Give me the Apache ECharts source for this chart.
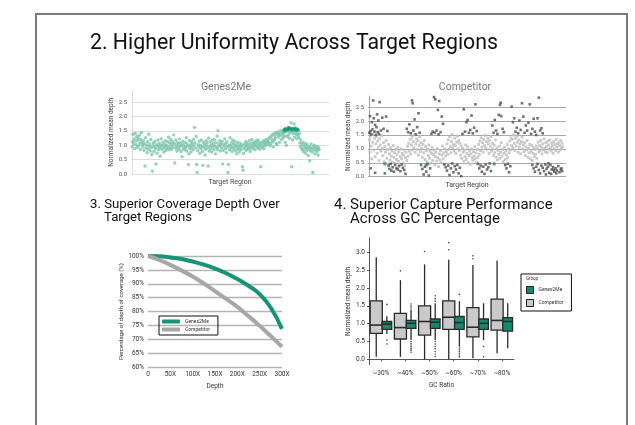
<!DOCTYPE html>
<html>
<head>
<meta charset="utf-8">
<script src="https://cdn.jsdelivr.net/npm/echarts@6/dist/echarts.min.js"></script>
<style>
html, body { margin: 0; padding: 0; background: #fff; }
#main { width: 635px; height: 425px; }
</style>
</head>
<body>
<div id="main"></div>
<script>
/*
 * Panel of four small charts: uniformity scatters, coverage curves, GC boxplots
 */

// normalized mean depth per target region (Genes2Me)
var g2mDepth = [
  0.95,1.12,1.38,1.05,1.22,0.88,1.41,1.15,1.02,1.30,0.92,1.18,1.25,0.98,1.35,1.08,0.85,1.20,1.44,1.10,
  1.02,0.94,1.16,0.82,1.06,0.28,1.26,0.90,1.00,0.74,1.12,0.86,1.38,0.96,1.04,0.80,1.20,0.92,0.68,0.10,
  0.98,1.08,0.78,0.94,1.14,0.88,0.35,1.02,0.72,0.96,1.18,0.84,1.06,0.92,0.62,1.00,1.22,0.86,0.98,1.10,
  0.90,0.76,1.04,0.94,1.16,0.82,1.00,0.88,1.12,0.96,1.28,0.84,1.08,0.92,1.20,1.02,0.86,1.14,0.94,1.06,
  1.36,1.06,0.38,0.90,1.18,0.98,0.80,1.10,0.92,1.04,0.86,1.22,0.96,1.08,0.78,1.00,0.60,1.14,0.88,1.02,
  0.94,0.84,1.10,0.92,1.26,0.80,1.04,0.96,0.33,0.70,1.16,0.88,1.00,0.76,1.12,0.92,1.06,0.84,1.20,0.98,
  1.62,1.08,0.90,1.30,0.33,0.05,0.82,1.02,0.94,1.14,0.72,1.00,0.88,1.18,0.96,0.78,0.30,1.10,0.92,1.04,
  0.66,0.86,1.16,0.98,1.08,0.90,0.28,1.24,0.80,0.96,1.12,0.88,1.02,0.76,1.18,0.94,1.06,0.84,1.20,0.98,
  0.70,1.10,0.92,1.32,0.86,1.50,1.04,0.96,1.16,0.80,1.00,1.08,0.90,1.14,0.35,0.82,1.02,0.96,1.22,0.88,
  1.06,0.74,1.12,0.94,0.05,0.33,1.00,0.84,1.26,0.98,0.90,1.08,0.78,1.18,0.92,1.04,0.86,1.14,0.96,0.80,
  1.02,0.70,0.92,1.10,0.86,0.98,0.76,0.90,1.06,0.84,0.96,1.00,0.25,0.13,0.72,0.88,1.04,0.94,1.12,0.82,
  0.98,1.08,0.90,1.02,0.86,1.16,0.94,0.78,1.06,0.92,1.20,1.00,0.88,1.10,0.96,1.04,0.84,1.14,0.98,1.08,
  0.90,1.18,1.02,0.94,1.12,0.86,1.06,0.25,1.00,0.92,1.10,0.96,1.16,0.88,1.04,1.12,0.98,1.20,1.06,1.14,
  1.14,1.02,1.22,1.10,1.28,0.98,1.06,1.30,1.20,1.36,1.12,0.94,1.40,1.18,1.32,1.24,1.44,1.06,1.02,1.38,
  1.46,1.28,1.36,1.10,1.42,1.50,1.34,1.20,1.48,1.38,1.26,1.44,1.52,1.32,1.10,1.46,1.00,1.56,1.30,1.48,
  1.36,1.54,1.24,1.42,1.50,1.78,0.25,1.46,1.18,1.52,1.40,1.74,1.28,1.48,1.56,1.38,1.22,1.44,1.34,1.50,
  1.26,1.40,1.08,0.96,1.18,0.90,1.04,0.84,1.10,0.78,0.98,0.88,1.06,0.72,0.94,0.82,1.02,0.90,0.64,0.96,
  0.86,0.46,0.92,0.80,1.04,0.88,0.76,0.05,0.94,0.84,1.00,0.70,0.90,0.82,0.96,0.78,0.88,0.66,0.92,0.84
];
// overlapping (darker) points in the raised block, [region, depth]
var g2mDense = [
  [292,1.50],[292,1.55],[294,1.58],[296,1.52],[298,1.57],[300,1.54],[300,1.62],[302,1.60],[304,1.56],
  [306,1.58],[307,1.53],[309,1.58],[311,1.55],[313,1.60],[315,1.52],[317,1.57],[319,1.54]
];

// competitor: main light band, one value per region
var compDepth = [
  1.32,0.88,1.46,1.10,0.64,1.24,1.52,0.96,1.38,0.72,1.18,1.44,0.84,1.28,1.06,0.58,1.36,1.14,0.92,1.48,
  1.02,0.76,1.22,0.54,1.08,0.88,1.30,0.66,0.98,0.46,1.16,0.82,0.60,1.04,0.74,0.92,0.52,1.12,0.70,0.86,
  0.48,0.98,0.62,0.80,1.06,0.56,0.90,0.44,0.72,1.00,0.64,0.84,0.50,0.78,0.96,0.40,0.68,0.88,0.58,1.10,
  0.74,1.20,0.92,1.34,0.82,1.14,1.42,0.96,1.26,1.04,1.50,0.88,1.18,1.36,0.98,1.28,0.78,1.12,1.44,0.90,
  1.22,1.02,0.70,1.16,0.86,1.30,0.62,1.08,0.94,0.54,1.00,0.76,1.14,0.66,0.92,0.48,0.84,1.06,0.58,0.80,
  0.96,0.42,0.72,0.88,0.56,1.02,0.68,0.36,0.82,0.60,0.94,0.50,0.78,1.10,0.64,0.86,0.46,1.00,0.74,0.90,
  1.18,0.80,1.32,0.98,1.44,1.08,0.86,1.26,1.52,1.04,1.16,0.92,1.38,1.12,0.84,1.24,1.46,1.00,1.30,0.94,
  1.20,0.78,1.10,0.66,1.02,0.88,0.56,0.96,0.72,1.14,0.62,0.84,1.06,0.50,0.76,0.92,0.44,0.82,1.00,0.68,
  0.58,0.90,0.74,1.08,0.64,0.86,0.52,0.98,0.70,1.16,0.80,1.28,0.94,1.40,1.06,1.22,0.88,1.34,1.12,1.48,
  1.02,1.26,0.96,1.38,1.18,0.84,1.30,1.08,1.44,0.92,1.20,1.00,0.76,1.14,0.86,1.32,0.70,1.04,0.60,0.94,
  0.80,1.10,0.66,0.88,1.22,0.74,0.98,0.54,0.84,1.06,0.62,0.92,0.78,1.16,0.68,1.00,0.86,1.28,0.96,1.40,
  1.12,1.34,1.04,1.50,1.20,0.94,1.38,1.10,1.46,1.24,0.88,1.32,1.06,1.18,0.82,1.26,1.42,1.00,1.14,0.90,
  1.22,0.76,1.08,0.96,1.30,0.70,1.02,0.86,1.16,0.64,0.92,1.12,0.58,0.84,1.04,0.72,0.98,0.80,1.10,0.66,
  1.00,1.24,0.88,1.12,0.94,1.30,1.06,0.82,1.18,0.96,1.36,1.02,0.90,1.22,1.08,0.86,1.28,1.14,0.98,1.32,
  1.04,0.92,1.20,1.10,0.84,1.26,1.00,1.16,0.94,1.34,1.06,1.18,0.88,1.24,1.12,0.96,1.30,1.02,1.20,1.08
];
// competitor: dark over/under-covered regions, [region, depth]
var compExtreme = [
  [0,1.58],[1,2.18],[2,1.64],[3,1.52],[4,1.96],[5,1.70],[6,2.74],[7,2.10],[8,1.62],[9,1.86],[10,1.50],[11,1.78],[12,2.24],[13,1.60],[14,2.02],[15,1.54],[16,2.68],[18,1.66],[2,0.30],[9,0.14],
  [20,2.12],[22,1.72],[24,0.12],[26,2.16],[28,1.64],[30,0.40],[31,0.28],[33,0.46],[34,0.22],[36,0.34],[38,0.18],[40,0.42],[42,0.30],[44,0.26],[46,0.38],[48,0.20],[50,0.44],[52,0.32],[54,0.24],[56,0.10],
  [58,1.72],[60,1.60],[62,1.88],[64,1.56],[66,2.74],[67,2.64],[68,1.66],[70,2.06],[72,1.52],[74,1.78],[76,2.28],[78,1.58],[80,0.42],[82,0.28],[84,0.08],[86,0.36],[88,0.18],[90,0.46],[92,0.04],[94,0.30],
  [96,1.54],[98,1.62],[100,2.86],[101,1.58],[102,2.78],[104,1.66],[106,2.40],[107,1.52],[108,2.72],[110,1.60],[112,2.16],[114,1.90],[116,0.44],[118,0.34],[120,0.22],[122,0.40],[124,0.06],[126,0.30],[128,0.48],[130,0.16],
  [132,0.38],[134,0.26],[136,0.42],[138,0.12],[140,0.32],[142,0.02],[144,1.54],[146,2.42],[148,1.62],[150,1.96],[152,2.04],[154,1.58],[156,1.68],[158,2.20],[160,1.56],[162,1.76],[164,2.60],[166,1.64],[168,0.46],[170,0.30],
  [172,0.40],[174,0.18],[176,0.36],[178,0.10],[180,0.44],[182,0.26],[184,0.34],[186,0.48],[188,0.20],[190,1.84],[192,1.58],[194,2.04],[196,1.66],[198,1.54],[200,2.22],[202,2.58],[203,2.66],[204,2.18],[206,1.72],[208,1.60],
  [210,0.42],[212,0.30],[214,0.46],[216,0.16],[218,0.38],[220,2.52],[222,1.96],[224,2.10],[226,1.62],[228,1.76],[230,1.56],[232,2.02],[234,1.68],[236,2.64],[238,2.16],[240,1.58],[242,1.84],[244,1.66],[246,1.94],[248,2.60],
  [250,1.54],[252,1.72],[254,2.08],[256,1.62],[258,1.50],[260,2.10],[262,2.84],[264,1.66],[266,1.74],[268,1.56],[252,0.42],[254,0.30],[256,0.18],[258,0.36],[260,0.46],[262,0.24],[264,0.12],[266,0.40],[268,0.32],[270,0.20],
  [272,0.44],[274,0.28],[276,0.36],[278,0.14],[280,0.42],[282,0.26],[284,0.34],[286,0.18],[288,0.30],[290,0.22],[292,0.38],[294,0.16],[296,0.26],[298,0.20],[273,0.08],[277,0.48],[281,0.10],[285,0.24],[289,0.12],[297,0.30]
];
var compMarked = [[24,0.46],[88,0.42],[193,0.46]];

// coverage curves
var depthSteps = [0, 25, 50, 75, 100, 125, 150, 175, 200, 225, 250, 275, 300];
var depthLabels = ['0', '50X', '100X', '150X', '200X', '250X', '300X'];
var g2mCoverage = [100, 99.9, 99.5, 98.9, 98.0, 96.9, 95.5, 93.8, 91.7, 89.3, 86.3, 81.4, 73.8];
var compCoverage = [100, 98.6, 96.8, 94.8, 92.6, 90.1, 87.4, 84.6, 81.7, 78.4, 74.9, 71.2, 67.4];

// GC boxplots: [min, Q1, median, Q3, max]
var gcCats = ['~30%', '~40%', '~50%', '~60%', '~70%', '~80%'];
var compBox = [
  [0.07, 0.73, 0.96, 1.64, 2.86],
  [0.07, 0.57, 0.89, 1.29, 2.22],
  [0.00, 0.68, 1.06, 1.50, 2.66],
  [0.00, 0.84, 1.18, 1.64, 2.79],
  [0.03, 0.63, 0.90, 1.45, 2.64],
  [0.17, 0.82, 1.09, 1.69, 2.77]
];
var g2mBox = [
  [0.71, 0.84, 0.99, 1.06, 1.21],
  [0.54, 0.87, 1.01, 1.09, 1.40],
  [0.54, 0.87, 1.04, 1.13, 1.57],
  [0.36, 0.84, 1.03, 1.20, 1.63],
  [0.54, 0.84, 1.01, 1.13, 1.57],
  [0.31, 0.79, 1.06, 1.17, 1.57]
];
// outliers [category index, depth]
var compOut = [[1,2.48],[2,3.02],[3,3.27],[3,3.07],[4,2.90],[4,2.82]];
var g2mOut = [
  [0,1.54],[0,0.54],[0,0.43],
  [1,1.55],[1,1.49],[1,1.44],[1,0.50],[1,0.45],[1,0.40],[1,0.35],[1,0.30],[1,0.25],[1,0.20],
  [2,1.78],[2,1.70],[2,1.63],[2,0.50],[2,0.43],[2,0.36],[2,0.30],[2,0.22],[2,0.15],[2,0.08],
  [3,1.82],[3,0.32],[3,0.27],[3,0.22],[3,0.17],[3,0.12],[3,0.07],
  [4,0.36],[4,0.07]
];

var TEAL = '#17937a';
var FONT = 'Roboto';

var myChart = echarts.init(document.getElementById('main'));

function boxItem(offset, widthRatio, fill) {
  return function (params, api) {
    var cat = api.value(0);
    var band = api.size([1, 0])[0];
    var cx = api.coord([cat, 0])[0] + offset * band;
    var half = widthRatio * band / 2;
    function y(i) { return api.coord([cat, api.value(i)])[1]; }
    var lo = y(1), q1 = y(2), md = y(3), q3 = y(4), hi = y(5);
    return {
      type: 'group',
      children: [
        { type: 'line', shape: { x1: cx, y1: lo, x2: cx, y2: q1 }, style: { stroke: '#2a2a2a', lineWidth: 1.3 } },
        { type: 'line', shape: { x1: cx, y1: q3, x2: cx, y2: hi }, style: { stroke: '#2a2a2a', lineWidth: 1.3 } },
        { type: 'rect', shape: { x: cx - half, y: q3, width: half * 2, height: q1 - q3 },
          style: { fill: fill, stroke: '#2a2a2a', lineWidth: 1.3 } },
        { type: 'line', shape: { x1: cx - half, y1: md, x2: cx + half, y2: md }, style: { stroke: '#2a2a2a', lineWidth: 1.6 } }
      ]
    };
  };
}

function outlierItem(offset) {
  return function (params, api) {
    var cat = api.value(0);
    var band = api.size([1, 0])[0];
    var p = api.coord([cat, api.value(1)]);
    return { type: 'circle', shape: { cx: p[0] + offset * band, cy: p[1], r: 0.8 }, style: { fill: '#444' } };
  };
}

var scatterY = function (lineColor, gridIdx, nameGap) {
  return {
    gridIndex: gridIdx, type: 'value', min: 0, max: 2.9, interval: 0.5,
    name: 'Normalized mean depth', nameLocation: 'middle', nameGap: nameGap,
    nameTextStyle: { fontSize: 6.5, color: '#444', fontFamily: FONT },
    axisLine: { show: true, lineStyle: { color: lineColor } },
    axisTick: { show: false },
    axisLabel: { fontSize: 6, color: '#555', margin: 4, showMaxLabel: false, fontFamily: FONT,
      formatter: function (v) { return v.toFixed(1); } },
    splitLine: { showMaxLine: false, lineStyle: { color: lineColor, width: 1 } }
  };
};

var scatterX = function (gridIdx, maxIdx) {
  return {
    gridIndex: gridIdx, type: 'value', min: -2, max: maxIdx,
    name: 'Target Region', nameLocation: 'middle', nameGap: 5,
    nameTextStyle: { fontSize: 7, color: '#444', fontFamily: FONT },
    axisLine: { show: false }, axisTick: { show: false }, axisLabel: { show: false }, splitLine: { show: false }
  };
};

var option = {
  animation: false,
  textStyle: { fontFamily: FONT },
  grid: [
    { left: 131, top: 90.5, width: 198, height: 83.5 },
    { left: 368, top: 96, width: 198, height: 80.7 },
    { left: 148, top: 256, width: 134, height: 111.3 },
    { left: 369, top: 238, width: 145, height: 126.7 }
  ],
  xAxis: [
    scatterX(0, 378),
    scatterX(1, 304),
    {
      gridIndex: 2, type: 'value', min: 0, max: 300, interval: 50,
      name: 'Depth', nameLocation: 'middle', nameGap: 16,
      nameTextStyle: { fontSize: 6.5, color: '#333' },
      axisLine: { show: false }, axisTick: { show: false }, splitLine: { show: false },
      axisLabel: { fontSize: 6.5, color: '#333', margin: 4,
        formatter: function (v) { return depthLabels[v / 50]; } }
    },
    {
      gridIndex: 3, type: 'category', data: gcCats,
      name: 'GC Ratio', nameLocation: 'middle', nameGap: 17,
      nameTextStyle: { fontSize: 6.5, color: '#333' },
      axisLine: { lineStyle: { color: '#555', width: 1 } },
      axisTick: { show: true, length: 2, alignWithLabel: true, lineStyle: { color: '#555' } },
      axisLabel: { fontSize: 6.5, color: '#333', margin: 5 }
    }
  ],
  yAxis: [
    scatterY('#dcdcdc', 0, 15),
    scatterY('#a8a8a8', 1, 13),
    {
      gridIndex: 2, type: 'value', min: 60, max: 100, interval: 5,
      name: 'Percentage of depth of coverage (%)', nameLocation: 'middle', nameGap: 23,
      nameTextStyle: { fontSize: 6, color: '#333' },
      axisLine: { show: false }, axisTick: { show: false },
      axisLabel: { fontSize: 6.5, color: '#333', margin: 4, formatter: '{value}%' },
      splitLine: { lineStyle: { color: '#b4b4b4', width: 1.3 } }
    },
    {
      gridIndex: 3, type: 'value', min: -0.15, max: 3.4, splitNumber: 7,
      name: 'Normalized mean depth', nameLocation: 'middle', nameGap: 16,
      nameTextStyle: { fontSize: 6.5, color: '#333' },
      axisLine: { show: true, lineStyle: { color: '#555', width: 1 } },
      axisTick: { show: true, length: 2, lineStyle: { color: '#555' } },
      axisLabel: { fontSize: 6.5, color: '#333', margin: 4, showMinLabel: false, showMaxLabel: false,
        formatter: function (v) { return v.toFixed(1); } },
      splitLine: { show: false }
    }
  ],
  legend: [
    {
      left: 159, top: 316, orient: 'vertical',
      itemWidth: 18, itemHeight: 4, itemGap: 3,
      borderColor: '#111', borderWidth: 1, padding: [3, 8, 3, 3],
      textStyle: { fontSize: 5, color: '#333' },
      data: [
        { name: 'Genes2Me', icon: 'roundRect', itemStyle: { color: TEAL } },
        { name: 'Competitor', icon: 'roundRect', itemStyle: { color: '#a7a7a7' } }
      ]
    },
    {
      left: 521, top: 274, orient: 'vertical',
      itemWidth: 7, itemHeight: 7, itemGap: 5,
      borderColor: '#111', borderWidth: 1, padding: [12, 8, 4, 5],
      textStyle: { fontSize: 5, color: '#333' },
      data: [
        { name: 'Genes2Me', icon: 'rect', itemStyle: { color: '#128a6d', borderColor: '#222', borderWidth: 1 } },
        { name: 'Competitor', icon: 'rect', itemStyle: { color: '#c9c9c9', borderColor: '#222', borderWidth: 1 } }
      ]
    }
  ],
  graphic: [
    { type: 'rect', shape: { x: 36, y: 14, width: 591, height: 430 }, style: { fill: 'none', stroke: '#7a7a7a', lineWidth: 2 } },
    { type: 'text', x: 90, y: 44, style: { text: '2. Higher Uniformity Across Target Regions', font: '21.3px Roboto', fill: '#111', verticalAlign: 'middle' } },
    { type: 'text', x: 226, y: 87, style: { text: 'Genes2Me', font: '10.5px Roboto', fill: '#777', align: 'center', verticalAlign: 'middle' } },
    { type: 'text', x: 465, y: 87, style: { text: 'Competitor', font: '10.5px Roboto', fill: '#777', align: 'center', verticalAlign: 'middle' } },
    { type: 'text', x: 90, y: 205, style: { text: '3. Superior Coverage Depth Over', font: '13.2px Roboto', fill: '#111', verticalAlign: 'middle' } },
    { type: 'text', x: 104, y: 218, style: { text: 'Target Regions', font: '13.2px Roboto', fill: '#111', verticalAlign: 'middle' } },
    { type: 'text', x: 334, y: 205, style: { text: '4. Superior Capture Performance', font: '15px Roboto', fill: '#111', verticalAlign: 'middle' } },
    { type: 'text', x: 350, y: 219, style: { text: 'Across GC Percentage', font: '15px Roboto', fill: '#111', verticalAlign: 'middle' } },
    { type: 'text', x: 526, y: 279, style: { text: 'Group', font: '4.5px Roboto', fill: '#333', verticalAlign: 'middle' } }
  ],
  series: [
    {
      type: 'scatter', xAxisIndex: 0, yAxisIndex: 0, symbol: 'circle', symbolSize: 3.4,
      itemStyle: { color: '#7cc6ab' },
      data: g2mDepth.map(function (v, i) { return [i, v]; })
    },
    {
      type: 'scatter', xAxisIndex: 0, yAxisIndex: 0, symbol: 'circle', symbolSize: 3.2,
      itemStyle: { color: '#15967a' }, data: g2mDense
    },
    {
      type: 'scatter', xAxisIndex: 1, yAxisIndex: 1, symbol: 'rect', symbolSize: 2.8,
      itemStyle: { color: '#bdbdbd' },
      data: compDepth.map(function (v, i) { return [i, v]; })
    },
    {
      type: 'scatter', xAxisIndex: 1, yAxisIndex: 1, symbol: 'rect', symbolSize: 2.6,
      itemStyle: { color: '#4d4d4d' }, data: compExtreme
    },
    {
      type: 'scatter', xAxisIndex: 1, yAxisIndex: 1, symbol: 'rect', symbolSize: 3,
      itemStyle: { color: '#1b8a6e' }, data: compMarked
    },
    {
      name: 'Genes2Me', type: 'line', xAxisIndex: 2, yAxisIndex: 2, smooth: true, showSymbol: false,
      lineStyle: { color: TEAL, width: 4 }, itemStyle: { color: TEAL }, z: 3,
      data: depthSteps.map(function (d, i) { return [d, g2mCoverage[i]]; })
    },
    {
      name: 'Competitor', type: 'line', xAxisIndex: 2, yAxisIndex: 2, smooth: true, showSymbol: false,
      lineStyle: { color: '#a7a7a7', width: 4 }, itemStyle: { color: '#a7a7a7' },
      data: depthSteps.map(function (d, i) { return [d, compCoverage[i]]; })
    },
    {
      name: 'Competitor', type: 'custom', xAxisIndex: 3, yAxisIndex: 3,
      renderItem: boxItem(-0.2, 0.5, '#c9c9c9'),
      encode: { x: 0, y: [1, 2, 3, 4, 5] },
      data: compBox.map(function (r, i) { return [i].concat(r); })
    },
    {
      name: 'Genes2Me', type: 'custom', xAxisIndex: 3, yAxisIndex: 3,
      renderItem: boxItem(0.24, 0.4, '#128a6d'),
      encode: { x: 0, y: [1, 2, 3, 4, 5] },
      data: g2mBox.map(function (r, i) { return [i].concat(r); })
    },
    {
      name: 'Competitor', type: 'custom', xAxisIndex: 3, yAxisIndex: 3,
      renderItem: outlierItem(-0.2), encode: { x: 0, y: 1 }, data: compOut
    },
    {
      name: 'Genes2Me', type: 'custom', xAxisIndex: 3, yAxisIndex: 3,
      renderItem: outlierItem(0.24), encode: { x: 0, y: 1 }, data: g2mOut
    }
  ]
};

option && myChart.setOption(option);
</script>
</body>
</html>
